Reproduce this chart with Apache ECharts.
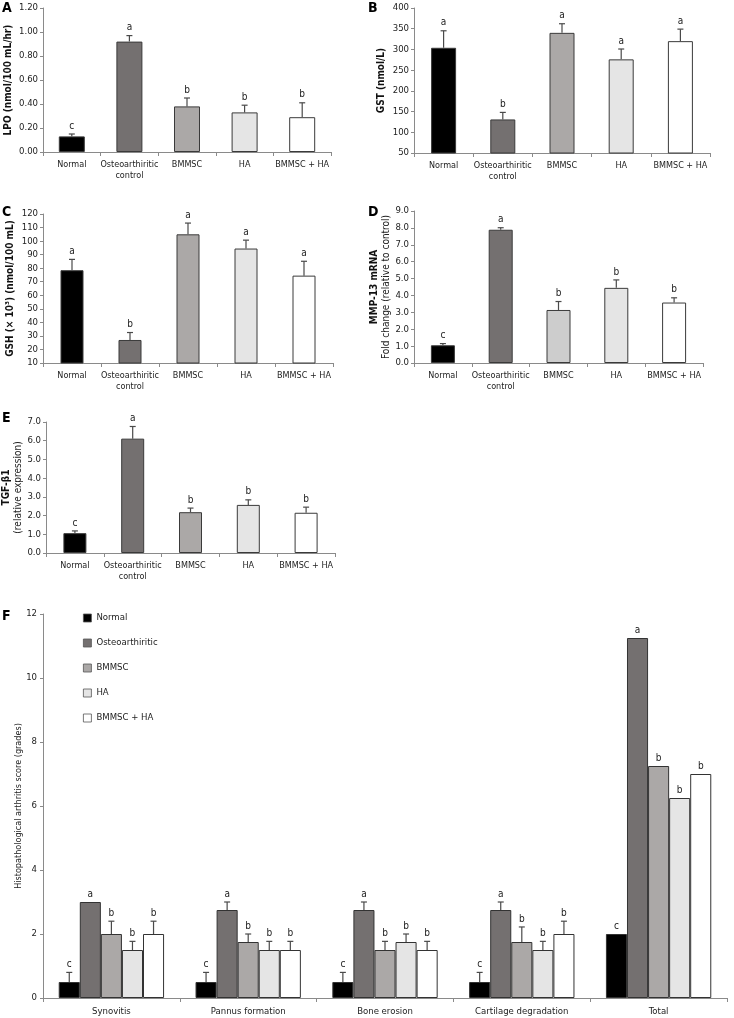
<!DOCTYPE html>
<html><head><meta charset="utf-8">
<script src="https://cdn.jsdelivr.net/npm/echarts/dist/echarts.min.js"></script>
<style>html,body{margin:0;padding:0;background:#fff}#c{width:734px;height:1018px}</style>
</head><body><div id="c"></div>
<script>
// ---------- data ----------
const groups = ['Normal', 'Osteoarthiritic\ncontrol', 'BMMSC', 'HA', 'BMMSC + HA'];

const lpoMean = [0.13, 0.92, 0.38, 0.33, 0.29];
const lpoErr = [0.02, 0.05, 0.07, 0.06, 0.12];
const lpoLetters = ['c', 'a', 'b', 'b', 'b'];

const gstMean = [304, 131, 340, 276, 320];
const gstErr = [41, 17, 22, 25, 29];
const gstLetters = ['a', 'b', 'a', 'a', 'a'];

const gshMean = [78.5, 27, 105, 94.5, 74.5];
const gshErr = [8, 5.5, 8.3, 6.2, 10.6];
const gshLetters = ['a', 'b', 'a', 'a', 'a'];

const mmpMean = [1.05, 7.89, 3.14, 4.45, 3.58];
const mmpErr = [0.1, 0.12, 0.5, 0.47, 0.28];
const mmpLetters = ['c', 'a', 'b', 'b', 'b'];

const tgfMean = [1.06, 6.11, 2.18, 2.57, 2.15];
const tgfErr = [0.12, 0.65, 0.22, 0.27, 0.3];
const tgfLetters = ['c', 'a', 'b', 'b', 'b'];

const scoreCats = ['Synovitis', 'Pannus formation', 'Bone erosion', 'Cartilage degradation', 'Total'];
const scoreNames = ['Normal', 'Osteoarthiritic', 'BMMSC', 'HA', 'BMMSC + HA'];
const scoreNormal = [0.5, 0.5, 0.5, 0.5, 2.0];
const scoreOsteo = [3.0, 2.75, 2.75, 2.75, 11.25];
const scoreBmmsc = [2.0, 1.75, 1.5, 1.75, 7.25];
const scoreHA = [1.5, 1.5, 1.75, 1.5, 6.25];
const scoreBH = [2.0, 1.5, 1.5, 2.0, 7.0];
const errNormal = [0.3, 0.3, 0.3, 0.3, 0];
const errOsteo = [0, 0.25, 0.25, 0.25, 0];
const errBmmsc = [0.4, 0.25, 0.27, 0.47, 0];
const errHA = [0.27, 0.27, 0.25, 0.27, 0];
const errBH = [0.4, 0.27, 0.27, 0.4, 0];
const lettersNormal = ['c', 'c', 'c', 'c', 'c'];
const lettersOsteo = ['a', 'a', 'a', 'a', 'a'];
const lettersOther = ['b', 'b', 'b', 'b', 'b'];

// ---------- style ----------
const FF = "'DejaVu Sans Condensed','DejaVu Sans',sans-serif";
const barColors = ['#000000', '#747070', '#aba8a7', '#e5e5e5', '#ffffff'];
const barColorsD = ['#000000', '#747070', '#cdcdcd', '#e5e5e5', '#ffffff'];
const AX = '#8a8a8a';

const panels = [
  { grid: { left: 43, top: 8, width: 288, height: 144 }, min: 0, max: 1.2, interval: 0.2, dec: 2,
    mean: lpoMean, err: lpoErr, letters: lpoLetters, colors: barColors, bw: 26,
    name: '{b|LPO (nmol/100 mL/hr)}', nameGap: 29 },
  { grid: { left: 414, top: 8, width: 296, height: 145 }, min: 50, max: 400, interval: 50, dec: 0,
    mean: gstMean, err: gstErr, letters: gstLetters, colors: barColors, bw: 25,
    name: '{b|GST (nmol/L)}', nameGap: 27 },
  { grid: { left: 43, top: 214, width: 290, height: 149 }, min: 10, max: 120, interval: 10, dec: 0,
    mean: gshMean, err: gshErr, letters: gshLetters, colors: barColors, bw: 23,
    name: '{b|GSH (× 10³) (nmol/100 mL)}', nameGap: 27 },
  { grid: { left: 414, top: 211, width: 289, height: 152 }, min: 0, max: 9, interval: 1, dec: 1,
    mean: mmpMean, err: mmpErr, letters: mmpLetters, colors: barColorsD, bw: 24,
    name: '{b|MMP-13 mRNA}\n{n|Fold change (relative to control)}', nameGap: 22 },
  { grid: { left: 43, top: 422, width: 292, height: 131 }, min: 0, max: 7, interval: 1, dec: 1,
    mean: tgfMean, err: tgfErr, letters: tgfLetters, colors: barColors, bw: 23,
    name: '{b|TGF-β1}\n{n|(relative expression)}', nameGap: 22 }
];

const grids = [], xAxes = [], yAxes = [], series = [];

function errSeries(gi, means, errs, letters, offsetFn) {
  return {
    type: 'custom', xAxisIndex: gi, yAxisIndex: gi, z: 10, silent: true,
    data: means.map((m, i) => [i, m, m + errs[i]]),
    renderItem(params, api) {
      const i = api.value(0);
      const base = api.coord([i, api.value(1)]);
      const top = api.coord([i, api.value(2)]);
      const x = base[0] + (offsetFn ? offsetFn(api) : 0);
      const ch = [];
      if (api.value(2) > api.value(1)) {
        ch.push({ type: 'line', shape: { x1: x, y1: base[1], x2: x, y2: top[1] }, style: { stroke: '#4a4a4a', lineWidth: 1.2 } });
        ch.push({ type: 'line', shape: { x1: x - 3, y1: top[1], x2: x + 3, y2: top[1] }, style: { stroke: '#4a4a4a', lineWidth: 1.2 } });
      }
      ch.push({ type: 'text', x: x, y: top[1] - 3,
        style: { text: letters[params.dataIndex], font: '10px ' + FF, fill: '#222',
          align: 'center', verticalAlign: 'bottom', textAlign: 'center', textVerticalAlign: 'bottom' } });
      return { type: 'group', children: ch };
    }
  };
}

panels.forEach((p, gi) => {
  grids.push(p.grid);
  xAxes.push({
    type: 'category', gridIndex: gi, data: groups,
    axisLine: { lineStyle: { color: AX } },
    axisTick: { show: true, length: 4, lineStyle: { color: AX } },
    axisLabel: { interval: 0, color: '#222', fontSize: 9, fontFamily: FF, margin: 7, lineHeight: 11 }
  });
  yAxes.push({
    type: 'value', gridIndex: gi, min: p.min, max: p.max, interval: p.interval,
    axisLine: { show: true, lineStyle: { color: AX } },
    axisTick: { show: true, length: 3, lineStyle: { color: AX } },
    splitLine: { show: false },
    axisLabel: { color: '#222', fontSize: 9.5, fontFamily: FF, margin: 5, formatter: v => v.toFixed(p.dec) },
    name: p.name, nameLocation: 'middle', nameGap: p.nameGap, nameRotate: 90,
    nameTextStyle: { fontFamily: FF, color: '#111',
      rich: { b: { fontWeight: 'bold', fontSize: 10, fontFamily: FF, color: '#111', lineHeight: 12 },
              n: { fontSize: 10, fontFamily: FF, color: '#222', lineHeight: 12 } } }
  });
  series.push({
    type: 'bar', xAxisIndex: gi, yAxisIndex: gi, barWidth: p.bw,
    data: p.mean,
    itemStyle: { color: (q) => p.colors[q.dataIndex], borderColor: '#3a3a3a', borderWidth: 1 }
  });
  series.push(errSeries(gi, p.mean, p.err, p.letters));
});

// ---------- panel F ----------
const FI = 5;
grids.push({ left: 43, top: 614, width: 684, height: 384 });
xAxes.push({
  type: 'category', gridIndex: FI, data: scoreCats,
  axisLine: { lineStyle: { color: AX } },
  axisTick: { show: true, length: 4, lineStyle: { color: AX } },
  axisLabel: { interval: 0, color: '#222', fontSize: 9.5, fontFamily: FF, margin: 9 }
});
yAxes.push({
  type: 'value', gridIndex: FI, min: 0, max: 12, interval: 2,
  axisLine: { show: true, lineStyle: { color: AX } },
  axisTick: { show: true, length: 3, lineStyle: { color: AX } },
  splitLine: { show: false },
  axisLabel: { color: '#222', fontSize: 9.5, fontFamily: FF, margin: 6 },
  name: 'Histopathological arthritis score (grades)', nameLocation: 'middle', nameGap: 20, nameRotate: 90,
  nameMoveOverlap: false,
  nameTextStyle: { fontSize: 9, fontFamily: FF, color: '#222' }
});
const fMeans = [scoreNormal, scoreOsteo, scoreBmmsc, scoreHA, scoreBH];
const fErrs = [errNormal, errOsteo, errBmmsc, errHA, errBH];
const fLetters = [lettersNormal, lettersOsteo, lettersOther, lettersOther, lettersOther];
const GAP = 0.23;
fMeans.forEach((m, s) => {
  series.push({
    type: 'bar', name: scoreNames[s], xAxisIndex: FI, yAxisIndex: FI, data: m,
    barCategoryGap: (GAP * 100) + '%', barGap: '0%',
    itemStyle: { color: barColors[s], borderColor: '#333', borderWidth: 1 }
  });
});
fMeans.forEach((m, s) => {
  series.push(errSeries(FI, m, fErrs[s], fLetters[s], (api) => {
    const band = api.size([1, 0])[0];
    const bw = band * (1 - GAP) / 5;
    return -band * (1 - GAP) / 2 + bw * (s + 0.5);
  }));
});

const letterStyle = (t, x, y) => ({ type: 'text', left: x, top: y,
  style: { text: t, font: 'bold 14px ' + FF, fill: '#000' } });

const chart = echarts.init(document.getElementById('c'), null, { renderer: 'canvas' });
chart.setOption({
  animation: false,
  backgroundColor: '#fff',
  grid: grids, xAxis: xAxes, yAxis: yAxes, series: series,
  legend: {
    data: scoreNames, orient: 'vertical', left: 78, top: 608,
    itemWidth: 8, itemHeight: 8, itemGap: 15, icon: 'rect',
    itemStyle: { borderWidth: 0.8, borderColor: '#555' },
    textStyle: { fontSize: 9.5, fontFamily: FF, color: '#222', lineHeight: 10 }
  },
  graphic: [
    letterStyle('A', 2, 1), letterStyle('B', 368, 1), letterStyle('C', 2, 205),
    letterStyle('D', 368, 205), letterStyle('E', 2, 411), letterStyle('F', 2, 609)
  ]
});
</script>
</body></html>
